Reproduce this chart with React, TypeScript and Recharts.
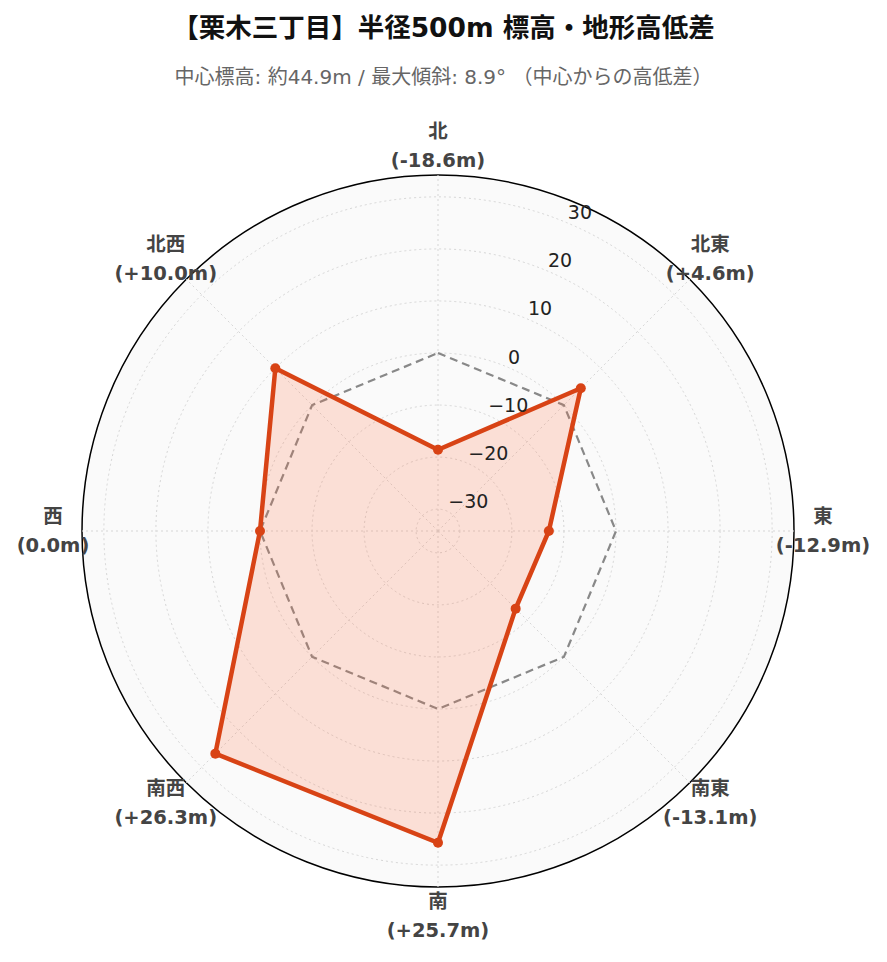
import { PolarAngleAxis, PolarGrid, PolarRadiusAxis, Radar, RadarChart } from 'recharts'

const directions = ['北', '北東', '東', '南東', '南', '南西', '西', '北西']
const elevationDiff = [-18.6, 4.6, -12.9, -13.1, 25.7, 26.3, 0.0, 10.0]
const baseline = [0, 0, 0, 0, 0, 0, 0, 0]
const radiusTicks = [-30, -20, -10, 0, 10, 20, 30]
const radiusDomain = [-34.2, 34.2]

const title = '【栗木三丁目】半径500m 標高・地形高低差'
const subtitle = '中心標高: 約44.9m / 最大傾斜: 8.9° （中心からの高低差）'

const W = 887
const H = 962
const CX = 438
const CY = 531
const R = 356
const LABEL_R = 385

const data = directions.map((dir, i) => ({ dir, diff: elevationDiff[i], base: baseline[i] }))

const fmtDiff = (v: number) => `(${v > 0 ? '+' : ''}${v.toFixed(1)}m)`

function AngleTick(props: any) {
  const { payload } = props
  const i = directions.indexOf(payload.value)
  const a = (-payload.coordinate * Math.PI) / 180
  const x = CX + LABEL_R * Math.cos(a)
  const y = CY + LABEL_R * Math.sin(a)
  return (
    <text
      x={x}
      y={y}
      textAnchor="middle"
      fill="#444"
      fontSize={19.5}
      fontWeight="bold"
      fontFamily="'DejaVu Sans', 'Noto Sans CJK JP', sans-serif"
    >
      <tspan x={x} y={y - 14.5} dominantBaseline="central">{payload.value}</tspan>
      <tspan x={x} y={y + 14.5} dominantBaseline="central">{fmtDiff(elevationDiff[i])}</tspan>
    </text>
  )
}

function RadiusTick(props: any) {
  const { x, y, payload } = props
  const v = payload.value as number
  return (
    <text
      x={x + 2}
      y={y - 10}
      textAnchor="start"
      dominantBaseline="central"
      fill="#222"
      fontSize={19}
      fontFamily="'DejaVu Sans', sans-serif"
    >
      {v < 0 ? `−${Math.abs(v)}` : `${v}`}
    </text>
  )
}

export default function App() {
  return (
    <div style={{ position: 'relative', width: W, height: H, margin: -8, background: '#fff' }}>
      <div
        style={{
          position: 'absolute', top: 12, left: 0, width: W, textAlign: 'center',
          fontFamily: "'DejaVu Sans', 'Noto Sans CJK JP', sans-serif", fontWeight: 'bold',
          fontSize: 26.5, lineHeight: '32px', color: '#111',
        }}
      >
        {title}
      </div>
      <div
        style={{
          position: 'absolute', top: 64, left: 0, width: W, textAlign: 'center',
          fontFamily: "'DejaVu Sans', 'Noto Sans CJK JP', sans-serif",
          fontSize: 20, lineHeight: '26px', color: '#666',
        }}
      >
        {subtitle}
      </div>
      <svg width={W} height={H} style={{ position: 'absolute', left: 0, top: 0 }}>
        <circle cx={CX} cy={CY} r={R} fill="#fafafa" stroke="#000" strokeWidth={1.5} />
      </svg>
      <div style={{ position: 'absolute', left: 0, top: 0 }}>
        <RadarChart width={W} height={H} data={data} cx={CX} cy={CY} outerRadius={R} margin={{ top: 0, right: 0, bottom: 0, left: 0 }}>
          <PolarGrid gridType="circle" stroke="#d6d6d6" strokeDasharray="2 3" />
          <PolarAngleAxis dataKey="dir" tick={AngleTick} tickLine={false} axisLine={false} />
          <PolarRadiusAxis
            angle={67.5}
            domain={radiusDomain}
            ticks={radiusTicks}
            tick={RadiusTick}
            tickLine={false}
            axisLine={false}
          />
          <Radar
            dataKey="base"
            stroke="#888"
            strokeWidth={2.2}
            strokeDasharray="8 5"
            fill="none"
            fillOpacity={0}
            dot={false}
            isAnimationActive={false}
          />
          <Radar
            dataKey="diff"
            stroke="#d84315"
            strokeWidth={4.5}
            fill="#ff7346"
            fillOpacity={0.2}
            dot={{ r: 5, fill: '#d84315', stroke: '#d84315', strokeWidth: 0, fillOpacity: 1 }}
            isAnimationActive={false}
          />
        </RadarChart>
      </div>
    </div>
  )
}
